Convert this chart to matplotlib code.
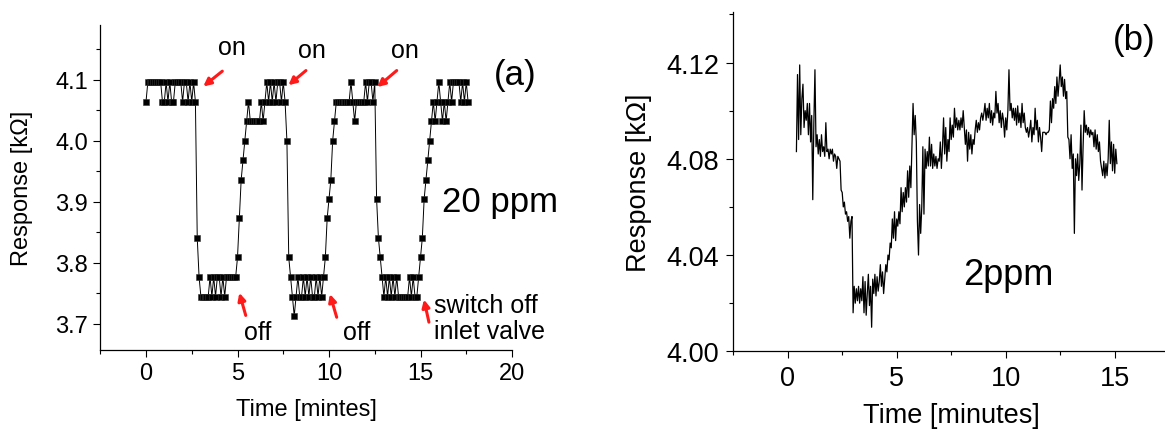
import numpy as np
import matplotlib
matplotlib.use("Agg")
import matplotlib.pyplot as plt
from matplotlib.ticker import MultipleLocator, FormatStrFormatter

plt.rcParams['font.family'] = ['Liberation Sans', 'DejaVu Sans']

# (a) 20 ppm, one reading every 0.1 min
resp_a = [
    4.064, 4.096, 4.096, 4.096, 4.096, 4.096, 4.096, 4.096, 4.096, 4.064,
    4.064, 4.096, 4.064, 4.096, 4.064, 4.064, 4.096, 4.096, 4.096, 4.096,
    4.064, 4.096, 4.096, 4.064, 4.096, 4.064, 4.096, 4.064, 3.841, 3.777,
    3.745, 3.745, 3.745, 3.745, 3.745, 3.777, 3.745, 3.777, 3.745, 3.777,
    3.777, 3.745, 3.777, 3.745, 3.777, 3.777, 3.777, 3.777, 3.777, 3.777,
    3.809, 3.873, 3.936, 3.968, 4.000, 4.032, 4.064, 4.032, 4.032, 4.032,
    4.032, 4.032, 4.032, 4.064, 4.032, 4.064, 4.096, 4.064, 4.096, 4.064,
    4.096, 4.064, 4.096, 4.096, 4.064, 4.096, 4.064, 4.000, 3.809, 3.777,
    3.745, 3.713, 3.745, 3.777, 3.745, 3.745, 3.777, 3.745, 3.777, 3.745,
    3.777, 3.745, 3.745, 3.777, 3.745, 3.777, 3.745, 3.777, 3.809, 3.873,
    3.905, 3.936, 4.000, 4.032, 4.064, 4.064, 4.064, 4.064, 4.064, 4.064,
    4.064, 4.064, 4.096, 4.064, 4.032, 4.064, 4.064, 4.064, 4.064, 4.064,
    4.096, 4.064, 4.096, 4.096, 4.064, 4.096, 3.905, 3.841, 3.809, 3.777,
    3.745, 3.777, 3.745, 3.777, 3.745, 3.777, 3.745, 3.777, 3.745, 3.745,
    3.745, 3.745, 3.745, 3.745, 3.777, 3.745, 3.777, 3.745, 3.745, 3.777,
    3.809, 3.841, 3.905, 3.936, 3.968, 4.000, 4.032, 4.064, 4.032, 4.064,
    4.096, 4.064, 4.032, 4.064, 4.032, 4.064, 4.096, 4.064, 4.096, 4.096,
    4.096, 4.096, 4.064, 4.096, 4.064, 4.096, 4.064,
]
time_a = np.arange(len(resp_a)) * 0.1

# (b) 2 ppm, one reading every 0.05 min starting at 0.4 min
resp_b = [
    4.083, 4.115, 4.088, 4.119, 4.090, 4.105, 4.111, 4.093, 4.100, 4.096,
    4.103, 4.090, 4.103, 4.087, 4.098, 4.063, 4.095, 4.117, 4.085, 4.090,
    4.082, 4.088, 4.081, 4.090, 4.083, 4.085, 4.081, 4.095, 4.083, 4.084,
    4.080, 4.084, 4.082, 4.084, 4.079, 4.082, 4.081, 4.076, 4.081, 4.080,
    4.079, 4.067, 4.066, 4.060, 4.062, 4.057, 4.058, 4.054, 4.056, 4.047,
    4.054, 4.056, 4.016, 4.027, 4.020, 4.026, 4.021, 4.027, 4.020, 4.026,
    4.021, 4.031, 4.016, 4.029, 4.015, 4.024, 4.032, 4.019, 4.027, 4.010,
    4.030, 4.024, 4.032, 4.023, 4.031, 4.025, 4.029, 4.036, 4.027, 4.033,
    4.024, 4.030, 4.036, 4.033, 4.040, 4.038, 4.045, 4.043, 4.055, 4.047,
    4.058, 4.046, 4.055, 4.052, 4.058, 4.053, 4.068, 4.058, 4.066, 4.060,
    4.068, 4.062, 4.075, 4.064, 4.077, 4.068, 4.085, 4.103, 4.090, 4.098,
    4.087, 4.054, 4.040, 4.061, 4.049, 4.060, 4.085, 4.057, 4.084, 4.076,
    4.083, 4.077, 4.089, 4.077, 4.086, 4.076, 4.082, 4.077, 4.081, 4.076,
    4.080, 4.079, 4.087, 4.076, 4.085, 4.097, 4.082, 4.093, 4.079, 4.088,
    4.083, 4.097, 4.088, 4.094, 4.089, 4.101, 4.093, 4.097, 4.092, 4.096,
    4.092, 4.097, 4.093, 4.100, 4.093, 4.086, 4.092, 4.079, 4.091, 4.084,
    4.090, 4.082, 4.088, 4.086, 4.092, 4.096, 4.091, 4.095, 4.092, 4.097,
    4.099, 4.096, 4.099, 4.103, 4.096, 4.101, 4.097, 4.103, 4.095, 4.100,
    4.094, 4.099, 4.097, 4.108, 4.099, 4.103, 4.095, 4.100, 4.093, 4.099,
    4.096, 4.089, 4.097, 4.092, 4.100, 4.117, 4.100, 4.103, 4.097, 4.101,
    4.096, 4.101, 4.094, 4.102, 4.095, 4.099, 4.093, 4.103, 4.095, 4.099,
    4.093, 4.091, 4.093, 4.089, 4.092, 4.096, 4.087, 4.093, 4.090, 4.101,
    4.092, 4.096, 4.087, 4.093, 4.089, 4.083, 4.091, 4.091, 4.091, 4.090,
    4.091, 4.091, 4.092, 4.104, 4.095, 4.105, 4.101, 4.110, 4.103, 4.114,
    4.106, 4.112, 4.119, 4.110, 4.114, 4.106, 4.113, 4.105, 4.108, 4.089,
    4.088, 4.080, 4.090, 4.076, 4.082, 4.049, 4.080, 4.073, 4.082, 4.071,
    4.078, 4.094, 4.067, 4.085, 4.100, 4.091, 4.094, 4.090, 4.093, 4.089,
    4.092, 4.090, 4.091, 4.085, 4.092, 4.084, 4.090, 4.083, 4.087, 4.079,
    4.076, 4.073, 4.079, 4.072, 4.078, 4.073, 4.080, 4.096, 4.078, 4.087,
    4.075, 4.086, 4.074, 4.084, 4.078,
]
time_b = 0.4 + np.arange(len(resp_b)) * 0.05

# annotation anchors in data units of panel (a)
on_text = [(4.68, 4.153), (9.09, 4.149), (14.15, 4.149)]
on_arrows = [((4.17, 4.114), (3.13, 4.089)),
             ((8.74, 4.115), (7.78, 4.091)),
             ((13.70, 4.115), (12.64, 4.088))]
off_text = [(6.12, 3.687), (11.53, 3.687)]
off_arrows = [((5.45, 3.714), (5.10, 3.751)),
              ((10.42, 3.711), (10.05, 3.749)),
              ((15.46, 3.703), (15.19, 3.740))]

W, H = 1165, 431
fig = plt.figure(figsize=(W / 100, H / 100), dpi=100)

def px_axes(left, top, right, bottom):
    return fig.add_axes([left / W, 1 - bottom / H, (right - left) / W, (bottom - top) / H])

def style(ax, size, pad):
    ax.spines['top'].set_visible(False)
    ax.spines['right'].set_visible(False)
    for s in ('left', 'bottom'):
        ax.spines[s].set_linewidth(0.9)
    ax.tick_params(which='major', direction='out', length=5, width=0.8, labelsize=size, pad=pad)
    ax.tick_params(which='minor', direction='out', length=2.6, width=0.8)

fs = 17
fs_note = 18
fs_b = 19.5
red = '#ff1a1a'

# ---- panel (a)
ax1 = px_axes(100.25, 26, 512, 351)
ax1.plot(time_a, resp_a, color='black', lw=0.7, marker='s', markersize=4.7,
         markerfacecolor='black', markeredgecolor='#333333', markeredgewidth=0.4)
ax1.set_xlim(-2.5, 20)
ax1.set_ylim(3.6574, 4.1896)
ax1.xaxis.set_major_locator(MultipleLocator(5))
ax1.xaxis.set_minor_locator(MultipleLocator(2.5))
ax1.yaxis.set_major_locator(MultipleLocator(0.1))
ax1.yaxis.set_minor_locator(MultipleLocator(0.05))
ax1.yaxis.set_major_formatter(FormatStrFormatter('%.1f'))
style(ax1, fs, 4)
ax1.set_xlabel('Time [mintes]', fontsize=fs, labelpad=10)
ax1.set_ylabel('Response [k\u03a9]', fontsize=fs, labelpad=16)

for x, y in on_text:
    ax1.text(x, y, 'on', fontsize=fs_note, ha='center', va='center')
for x, y in off_text:
    ax1.text(x, y, 'off', fontsize=fs_note, ha='center', va='center')
for (x0, y0), (x1, y1) in on_arrows + off_arrows:
    ax1.annotate('', xy=(x1, y1), xytext=(x0, y0),
                 arrowprops=dict(arrowstyle='-|>', color=red, lw=2.2, mutation_scale=11,
                                 shrinkA=0, shrinkB=0))
ax1.text(15.74, 3.710, 'switch off\ninlet valve', fontsize=fs_note, ha='left', va='center',
         linespacing=1.1)
ax1.text(16.16, 3.900, '20 ppm', fontsize=25, ha='left', va='center')
ax1.text(18.99, 4.109, '(a)', fontsize=25, ha='left', va='center')

# ---- panel (b)
ax2 = px_axes(733.2, 13, 1169.2, 352.3)
ax2.plot(time_b, resp_b, color='black', lw=0.9)
ax2.set_xlim(-2.5, 17.5)
ax2.set_ylim(4.00, 4.141)
ax2.xaxis.set_major_locator(MultipleLocator(5))
ax2.xaxis.set_minor_locator(MultipleLocator(2.5))
ax2.yaxis.set_major_locator(MultipleLocator(0.04))
ax2.yaxis.set_minor_locator(MultipleLocator(0.02))
ax2.yaxis.set_major_formatter(FormatStrFormatter('%.2f'))
style(ax2, fs_b, 5)
ax2.set_xlabel('Time [minutes]', fontsize=fs_b, labelpad=8)
ax2.set_ylabel('Response [k\u03a9]', fontsize=fs_b, labelpad=10)
ax2.text(8.03, 4.032, '2ppm', fontsize=26, ha='left', va='center')
ax2.text(14.92, 4.1297, '(b)', fontsize=25, ha='left', va='center')

fig.savefig('out.png', dpi=100)
